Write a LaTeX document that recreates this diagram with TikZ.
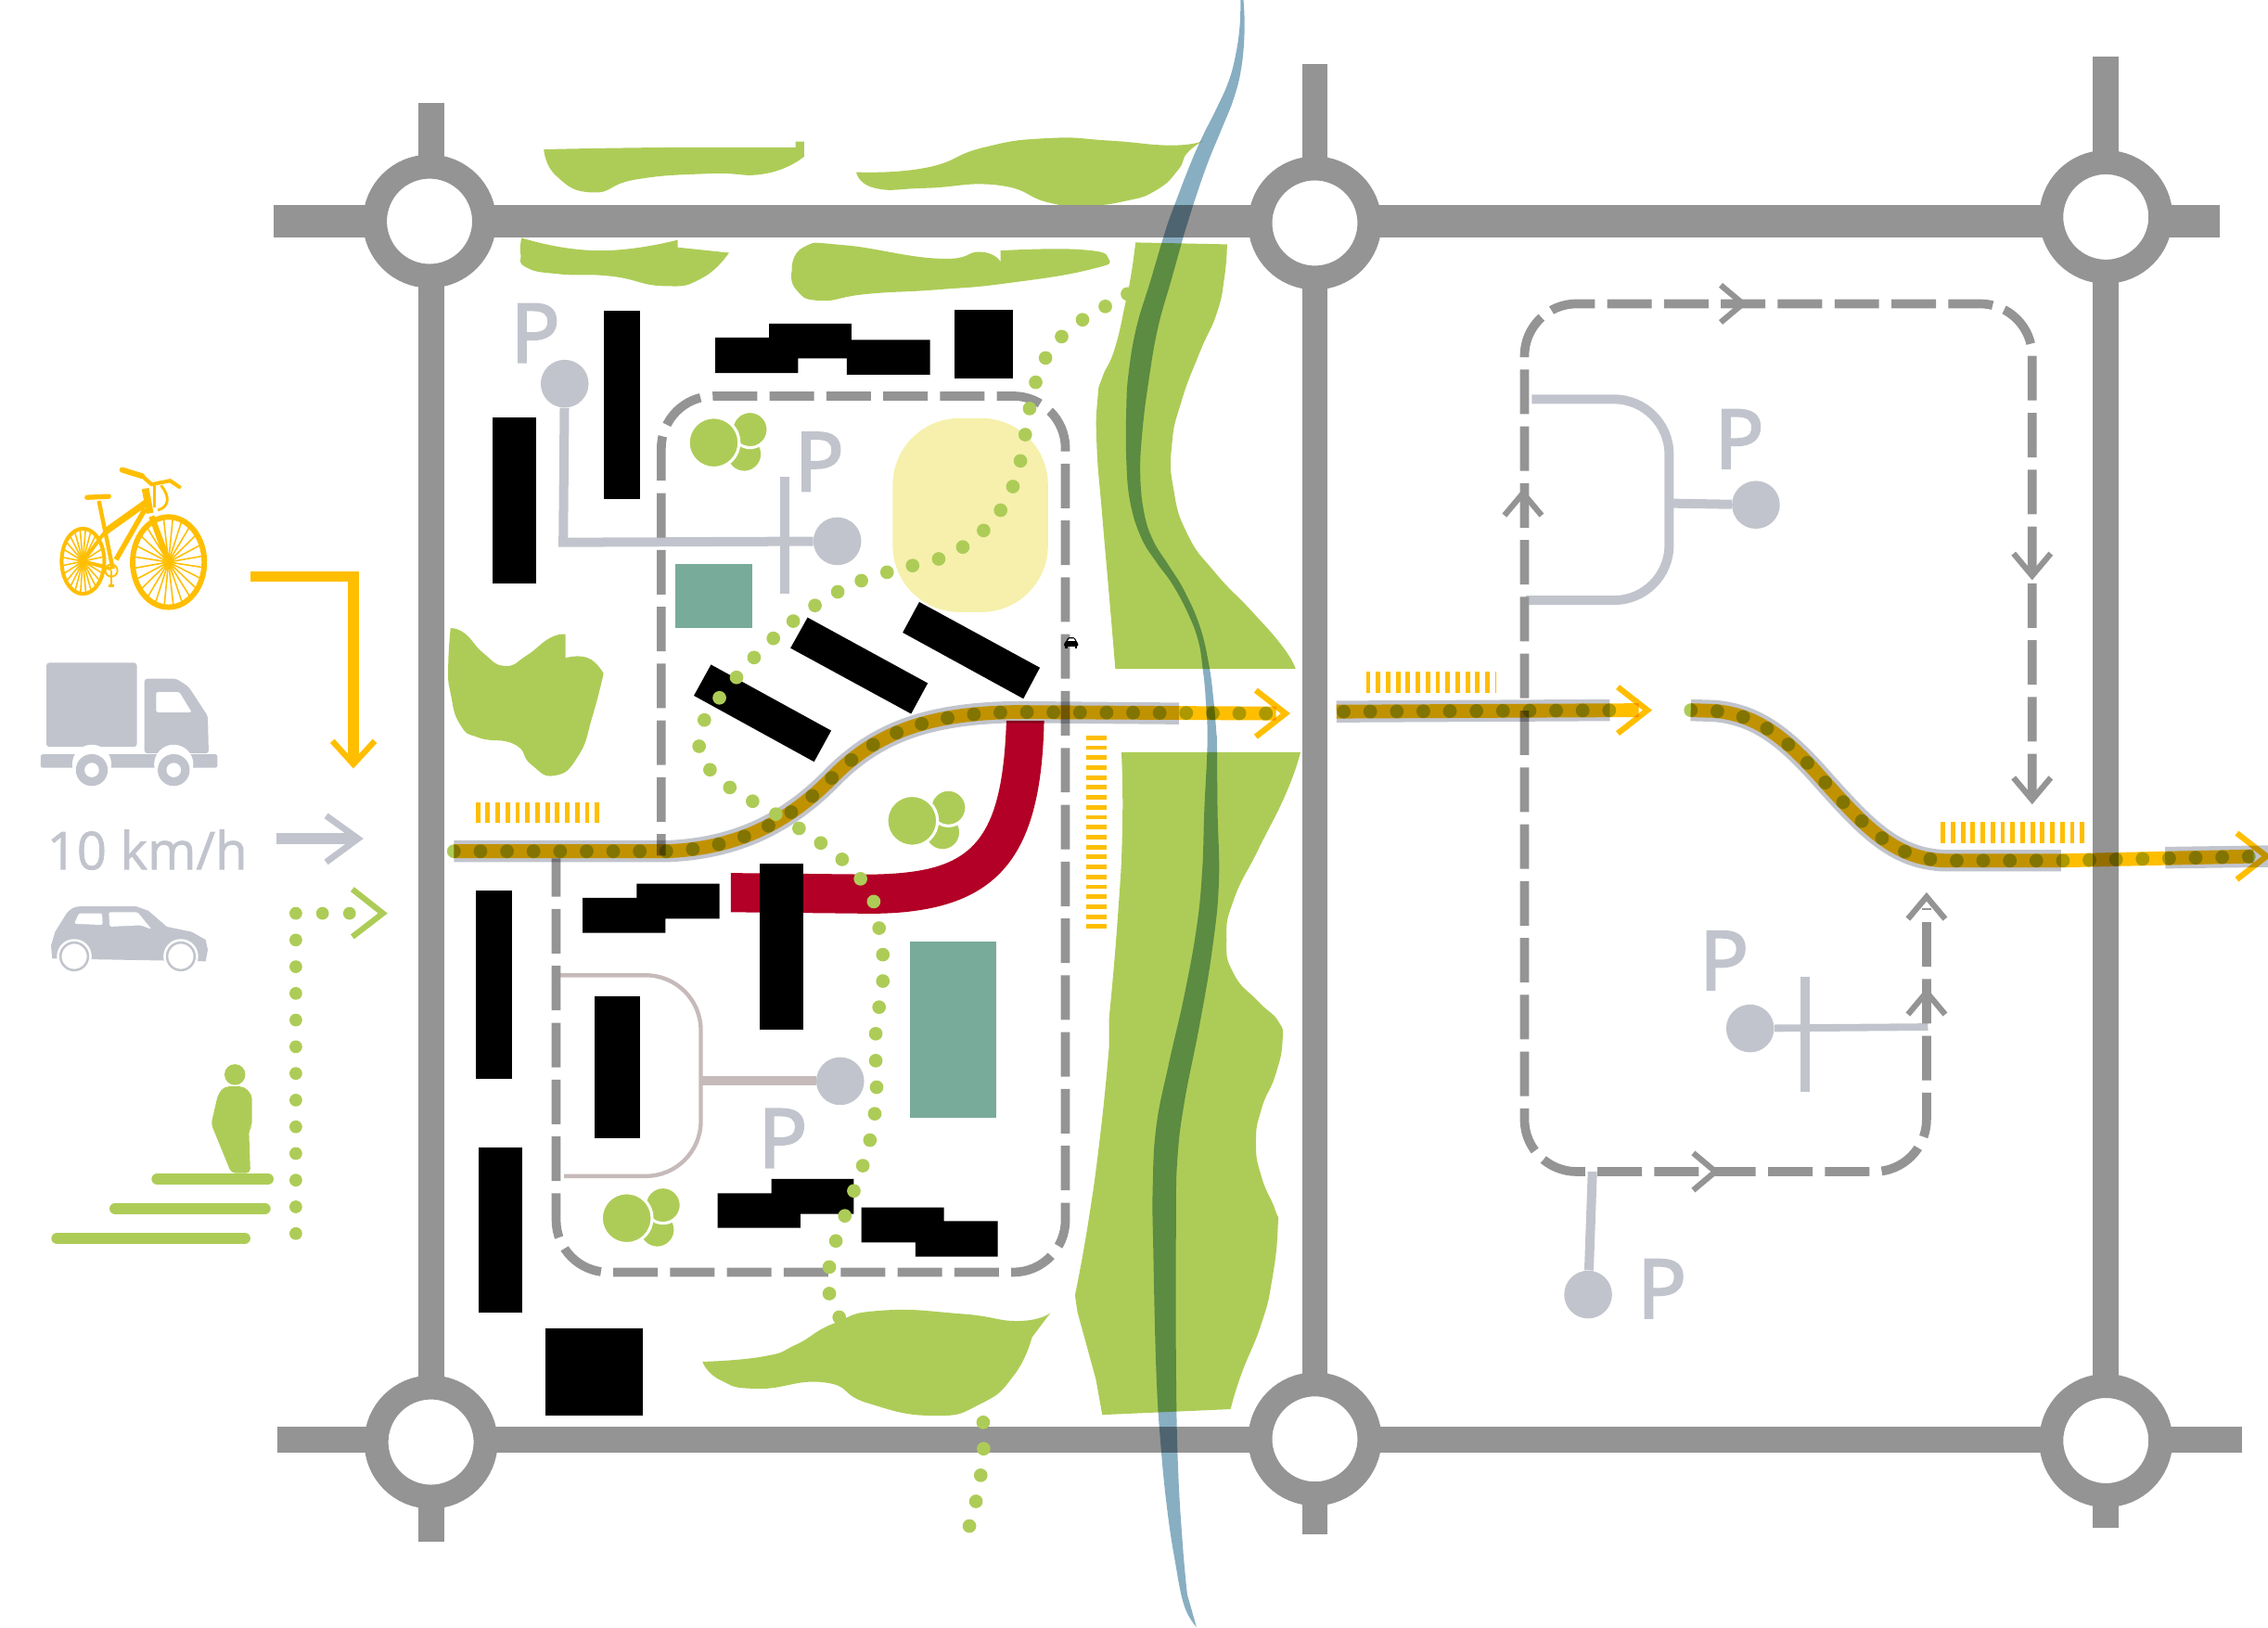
\documentclass[tikz,border=0pt]{standalone}
\usepackage{fontspec}
\setmainfont{Open Sans}
\newfontfamily\heavyfont[FakeBold=3]{Open Sans}
\newfontfamily\speedfont[FakeBold=1.2]{Open Sans}
\usetikzlibrary{arrows.meta,calc,positioning}
\definecolor{myRoad}{RGB}{148,148,148}
\definecolor{myGrey}{RGB}{193,196,204}
\definecolor{myRose}{RGB}{198,186,186}
\definecolor{myGreen}{RGB}{173,204,87}
\definecolor{myYellow}{RGB}{255,190,0}
\definecolor{myPond}{RGB}{246,240,172}
\definecolor{myTeal}{RGB}{120,171,153}
\definecolor{myRed}{RGB}{178,0,38}
\definecolor{myRiver}{RGB}{136,174,194}
\newcommand{\bendleft}{(313,587) -- (460,587) .. controls (510,585) and (545,566) .. (575,535) .. controls (605,505) and (640,492) .. (700,491)}
\newcommand{\bendright}{(1169,491) -- (1185,491.5) .. controls (1215,494) and (1235,510) .. (1262,541) .. controls (1290,572) and (1310,594) .. (1345,595)}
\tikzset{
  road/.style={draw=myRoad,line width=17.6pt},
  rbout/.style={draw=myRoad,fill=white,shape=circle,line width=16.6pt,minimum size=75.4pt,inner sep=0},
  block/.style={fill=black},
  park/.style={fill=myGreen},
  blob/.style={smooth,tension=.9},
  hub/.style={fill=myGrey,shape=circle,minimum size=33pt,inner sep=0},
  stem/.style={draw=myGrey,line width=6.4pt},
  bay/.style={draw=myGrey,line width=6.4pt,rounded corners=38pt},
  lbl/.style={text=myGrey,inner sep=0,font=\heavyfont\fontsize{56}{56}\selectfont},
  loopline/.style={draw=myRoad,line width=6.2pt,dash pattern=on 30.7pt off 8.5pt,rounded corners=36pt},
  casing/.style={draw=myGrey,line width=15pt},
  cycleway/.style={draw=myYellow,line width=9.5pt},
  footway/.style={draw=myGreen,line width=9.5pt,line cap=round,dash pattern=on 0.01pt off 18.3pt},
  hatch/.style={draw=myYellow,line width=14.5pt,dash pattern=on 3.1pt off 3.75pt},
  tip/.style={line width=4pt,miter limit=10},
  crown/.style={fill=myGreen,draw=white,line width=2pt},
  trees/.pic={
    \path [crown] (21,8) circle (12.5pt);
    \path [crown] (25,-9) circle (12.5pt);
    \path [crown] (0,0) circle (17.5pt);
  },
}
\begin{document}
\begin{tikzpicture}[x=1pt,y=-1pt]
  \useasboundingbox (0,0) rectangle (1564,1122);
  % ponds and green
  \fill [myPond,rounded corners=46pt] (615.6,288.4) rectangle (722.7,422.1);
  \path [park] plot[blob] coordinates {(375,103) (460,101.7) (548.6,101.7)} -- (548.6,97.7) -- (554.5,97.7) -- plot[blob] coordinates {(554.5,108) (528,119.7) (488.7,119.7) (438.9,123.7) (409,132.7) (384,121.7) (375,103)} -- cycle;
  \path [park] plot[blob] coordinates {(590.5,118.7) (638.3,115.7) (678.2,101.7) (722.8,95.3) (765.4,97) (808,100.2) (830,97)} -- plot[blob] coordinates {(830,97) (818.7,105.5) (812.3,117.3) (797.4,131.1) (776.1,138.6) (748.4,141.8) (722.8,139.6) (688.2,127.7) (638.3,129.7) (603.4,129.7) (590.5,118.7)} -- cycle;
  \path [park] plot[blob] coordinates {(359.7,164) (412,172.8) (467.4,165.4)} -- (467.4,170.6) -- (502.7,174.3) -- plot[blob] coordinates {(502.7,174.3) (483.7,192) (457.6,197.2) (421.7,190.5) (385.8,189) (363,184.4) (359,175) (359.7,164)} -- cycle;
  \path [park] plot[blob] coordinates {(546,187) (553.9,170.6) (581.7,169) (646.9,178.3) (676.3,173.7) (690,180.7)} -- (690,172.8) -- plot[blob] coordinates {(690,172.8) (744.9,172.1) (764.4,178.3) (751.4,185.9) (695.9,195.1) (646.9,199.7) (598,202.7) (565.3,207.3) (549,199.7) (546,187)} -- cycle;
  \path [park] plot[blob] coordinates {(310.7,433.2) (320.5,436.8) (333.6,450.6) (348.3,459.2) (363,452.1) (379.3,439.9) (390,437.5)} -- (390,453.7) -- plot[blob] coordinates {(390,453.7) (405.4,453.7) (416.2,464.4)} -- plot[blob] coordinates {(416.2,464.4) (408.7,493.4) (398.9,521) (382.6,534.8) (366.2,527.1) (354.8,513.3) (330.3,508.7) (317.3,499.6) (310.7,478.1) (309.1,459.8) (310.7,433.2)} -- cycle;
  \path [park] plot[blob] coordinates {(484.4,939) (526.2,935.4) (549,927.2) (575.1,912.5) (607.8,903.7) (663.3,906) (702.4,910.9) (724.3,905.4)} -- (711.6,922.3) -- plot[blob] coordinates {(711.6,922.3) (699.2,948.4) (676.3,968) (643.7,976.2) (598,967.4) (568.6,953.3) (522.9,957.6) (496.8,951.7) (484.4,939)} -- cycle;
  \path [park] (783,167.2) -- (846.2,168.5) -- plot[blob] coordinates {(846.2,168.5) (844.3,191.7) (839,216.2) (827.3,243.1) (814.5,277.4) (808.1,306.8) (809.1,336.2) (818.7,368) (838,394.9) (863.5,421.8) (884.8,446.3) (893.4,461.2)} -- (769.1,461.2) -- plot[blob] coordinates {(769.1,461.2) (765.4,416.9) (760.1,355.7) (756.3,306.8) (756.9,275) (760.1,260.3) (768.6,240.7) (776.1,208.9) (780.4,186.8) (783,167.2)} -- cycle;
  \path [park] (773.3,518.7) -- (896.8,518.7) -- plot[blob] coordinates {(896.8,518.7) (887,546.7) (867.8,585.6) (850.7,620.7) (845.8,647.9) (850.7,671.3) (867.8,690.7) (881.6,704.4) (884.4,718) (879.5,741.3) (869.9,764.7) (866.1,788) (869.9,811.4) (879.5,834.7) (881.2,846.4) (877.4,881.4) (869.9,912.6) (856,947.6) (848.6,971.7)} -- (760.1,975.6) -- (755.8,951.5) -- (747.3,920.4) -- (743,904.8) -- (741.3,893.1) -- plot[blob] coordinates {(741.3,893.1) (750.5,842.5) (759,780.3) (764.8,721.9)} -- plot[blob] coordinates {(764.8,702.4) (770.8,632.4) (774,570.1) (773.3,518.7)} -- cycle;
  \pic at (492.2,305.2) {trees};
  \pic at (629,566) {trees};
  \pic at (432.2,840) {trees};
  % buildings
  \fill [myRed] (504,602) -- (600,603) .. controls (668,602) and (691,585) .. (694,497) -- (720,497) .. controls (718,590) and (690,630) .. (600,630) -- (504,629) -- cycle;
  \fill [myTeal] (465.8,388.8) rectangle (519,432.9);
  \fill [myTeal] (627.7,649.1) rectangle (687.1,770.6);
  \path [block] (416.5,214.4) rectangle (441.3,344.4);
  \path [block] (339.5,287.8) rectangle (369.5,402.3);
  \path [block] (658,213.5) rectangle (698.5,260.9);
  \path [block] (493.2,232.7) -| (530.4,223.2) -| (587.2,234.3) -| (641.4,258.4) -| (584,247.1) -| (550.3,257.2) -| cycle;
  \path [block] (490.3,458.3) -- (573.2,503.8) -- (561.4,525.3) -- (478.5,479.7) -- cycle;
  \path [block] (556.9,425.8) -- (639.8,471.1) -- (628.3,492.2) -- (545.1,446.9) -- cycle;
  \path [block] (633.9,415.1) -- (717.1,460.4) -- (705.7,481.8) -- (622.5,436.2) -- cycle;
  \path [block] (328,614.2) rectangle (353.2,744.1);
  \path [block] (330,791.4) rectangle (360,905.4);
  \path [block] (376,915.8) rectangle (443.6,975.9);
  \path [block] (410.3,687) rectangle (441.3,784.6);
  \path [block] (523.9,595.6) rectangle (553.9,709.8);
  \path [block] (401.8,619.1) -| (439,609.3) -| (496.1,633.5) -| (458.9,643.3) -| cycle;
  \path [block] (494.8,822.8) -| (532,813) -| (588.8,837.1) -| (552,846.6) -| cycle;
  \path [block] (594,832.6) -| (650.9,842) -| (688.1,866.5) -| (631.3,856.7) -| cycle;
  % parking
  \node (hubA) [hub] at (389.4,264.6) {};
  \node (hubB) [hub] at (577.4,373.2) {};
  \node (hubC) [hub] at (579.4,745.5) {};
  \node (pA) [lbl] at (369.2,229.7) {P};
  \node (pB) [lbl] at (565,318.4) {P};
  \node (pC) [lbl] at (539.8,784.9) {P};
  \coordinate (bayC) at (483.5,745.5);
  \draw [stem] (hubA) -- (388.4,374) -- (hubB);
  \draw [stem] (541.2,328.8) -- (541.2,409.3);
  \draw [stem,draw=myRose] (hubC) -- (bayC);
  \draw [bay,draw=myRose,line width=2.8pt] (385.2,672.5) -- (483.3,672.5) -- (483.3,811) -- (389,811);
  \begin{scope}[scale=.9974]
    \node (hubD) [hub] at (1214,349) {};
    \node (hubE) [hub] at (1210,711) {};
    \node (hubF) [hub] at (1098,895) {};
    \node (pD) [lbl] at (1202.5,303.5) {P};
    \node (pE) [lbl] at (1192,664) {P};
    \node (pF) [lbl] at (1149,891) {P};
    \coordinate (bayD) at (1156,348);
    \coordinate (stemE) at (1333,710);
    \coordinate (stemF) at (1101,810);
    \draw [bay] (1059,276) -- (1154,276) -- (1154,415) -- (1055,415);
    \draw [stem] (hubD) -- (bayD);
    \draw [stem,line width=5pt] (hubE) -- (stemE);
    \draw [stem] (1248,675) -- (1248,755);
    \draw [stem] (hubF) -- (stemF);
  \end{scope}
  % roads
  \draw [road,line width=22.5pt] (188.5,152.4) -- (1531,152.4);
  \draw [road] (191.5,992.6) -- (1546,992.6);
  \draw [road] (297.3,70.8) -- (297.3,1063.2);
  \draw [road] (906.7,43.9) -- (906.7,1058.2);
  \draw [road] (1452.2,38.9) -- (1452.2,1053.3);
  \node (rbA) [rbout] at (296.2,152.6) {};
  \node (rbB) [rbout] at (906.7,153.8) {};
  \node (rbC) [rbout] at (1452.2,149.6) {};
  \node (rbD) [rbout] at (297.2,994.4) {};
  \node (rbE) [rbout] at (906.7,992.3) {};
  \node (rbF) [rbout] at (1452.2,993.4) {};
  % loops
  \draw [loopline,dash phase=15.9pt] (456,590) -- (456,273.1) -- (734.7,273.1) -- (734.7,877.3) -- (383.5,877.3) -- (383.5,592);
  \begin{scope}[scale=.9974]
    \draw [loopline] (1405,552) -- (1405,210) -- (1054,210) -- (1054,810) -- (1332,810) -- (1332,628);
    \foreach \x/\y/\a in {1205/210/0,1053/341/-90,1405/398/90,1405/553/90,1186/810/0,1332/620/-90,1332/686/-90}
      \draw [tip,draw=myRoad] (\x,\y) ++(\a+140:20) -- (\x,\y) -- ++(\a-140:20);
  \end{scope}
  % river and cycle tracks
  \begin{scope}[blend mode=multiply]
    \fill [myRiver] plot[smooth,tension=.7] coordinates {(855.4,0) (855,17) (852.4,36.2) (847.5,55.4) (839,74.6) (829.4,93.8) (820.9,113) (810.2,140.7) (803.4,159.9) (793.2,194.2) (783.6,226) (778.2,257.8) (776.7,282.3) (776.7,316.6) (779.3,345.9) (786.8,370.4) (797.4,387.6) (808.1,402.3) (818.7,421.8) (826.2,441.4) (829.4,461) (831.5,483) (832.6,511.7) (830.5,558.4) (829,601.2) (825.1,640.1) (816.6,686.8) (806,733.5) (797.4,776.4) (794.9,819.2) (795.3,862) (797.4,947.6) (800.6,998.2) (804.9,1041) (810.2,1076) (816.6,1107.2) (825.1,1122)} -- plot[smooth,tension=.7] coordinates {(818.7,1099.4) (815.5,1064.4) (812.3,1009.9) (811,939.8) (811,842.5) (811.9,799.7) (816.6,760.8) (827.3,706.3) (835.8,655.7) (840.5,609) (839.6,558.4) (839.2,511.7) (839,507.5) (836.9,483) (833.7,458.5) (827.3,431.6) (816.6,407.2) (806,390) (795.3,372.9) (788.9,353.3) (786.3,326.4) (787.8,297) (792.1,262.7) (798.5,226) (808.1,191.7) (817,159.9) (823,140.7) (832.6,113) (842.2,89.5) (850.7,68.2) (856,46.9) (858.2,21.3) (857.5,0)} -- cycle;
    \draw [casing] \bendleft -- (813,492);
    \draw [cycleway] \bendleft -- (880,492);
    \draw [footway] \bendleft -- (877,492);
    \draw [tip,draw=myYellow] (886.5,492) ++(142:26) -- (886.5,492) -- ++(-142:26);
    \begin{scope}[scale=.9974]
      \draw [casing] (924,492) -- (1113,491);
      \draw [casing] \bendright -- (1425,595);
      \draw [casing] (1497,593) -- (1568,592);
      \draw [cycleway] (924,492) -- (1133,491);
      \draw [cycleway] \bendright -- (1425,595) -- (1558,592);
      \draw [footway] (929,492) -- (1130,491);
      \draw [footway] \bendright -- (1425,595) -- (1564,592);
      \foreach \x/\y in {1139/491,1567/592}
        \draw [tip,draw=myYellow] (\x,\y) ++(142:26) -- (\x,\y) -- ++(-142:26);
    \end{scope}
  \end{scope}
  % crossings
  \draw [hatch] (328,560.4) -- (417,560.4);
  \draw [hatch] (942,470.5) -- (1032,470.5);
  \draw [hatch] (1338.4,574.3) -- (1441,574.3);
  \draw [hatch] (756,507.2) -- (756,640);
  % foot path
  \foreach \x/\y in {777.5/202.7,762.2/211.3,746.5/220.5,732.1/232.1,721/246.8,714.2/263.6,710/281.7,707/299.7,703.7/317.8,698.5/335.5,690/351.8,678.3/365.8,663.9/377.2,647.3/385.4,629.3/390,611.7/394.6,594/400.4,577.7/408.1,562/417.5,547/428.3,533.3/440.2,520/453.4,507.9/467.1,496.1/481.2,485.7/496.5,482.1/514.6,489.6/530.8,503.3/543,519/552.5,535/561.4,551/571.2,566/581.3,580.7/592.6,593.4/606,602.5/621.7,606.2/640,608.8/658.3,608.8/676.5,606.2/694.5,603.9/712.8,603.9/731.4,604.5/749.7,603.2/768,599.9/786.2,595/803.8,588.8/821.2,582.6/838.4,576.4/855.7,571.9/873.7,571.9/892,578.7/908.3,678/980.8,678.3/999,676.3/1017.3,673/1035.3,668.5/1052.3}
    \fill [myGreen] (\x,\y) circle (4.7pt);
  % small car
  \fill [black,rounded corners=.8pt] (733.7,445.7) -- (733.7,443.5) -- (735,442.5) -- (736.5,439.5) -- (741,439.5) -- (742.5,442.5) -- (743.5,443.5) -- (743.5,445.7) -- cycle;
  \fill [white] (736.3,442) -- (737.3,440.4) -- (740.5,440.4) -- (741.5,442) -- cycle;
  \fill [black] (734.5,445.7) rectangle (736,447);
  \fill [black] (741.2,445.7) rectangle (742.8,447);
  % legend
  \draw [draw=myYellow,line width=7.2pt] (172.7,397.5) -- (243.7,397.5) -- (243.7,525);
  \draw [tip,draw=myYellow,line width=4pt] (229.2,511) -- (243.7,527) -- (258.4,511);
  \draw [draw=myGrey,line width=7.2pt] (190.8,578.3) -- (244,578.3);
  \draw [tip,draw=myGrey,line width=4.4pt] (224.9,562.5) -- (246.9,578.3) -- (224.9,594.5);
  \node (speed) [text=myGrey,inner sep=0,font=\speedfont\fontsize{36}{36}\selectfont] at (101.5,586) {10 km/h};
  \foreach \y in {629.8,648.2,...,855}
    \fill [myGreen] (204,\y) circle (4.4pt);
  \foreach \x in {222.4,241}
    \fill [myGreen] (\x,629.8) circle (4.4pt);
  \draw [tip,draw=myGreen] (243,613.2) -- (264,629.8) -- (243,646);
  \foreach \a/\b/\y in {104.5/188.7/813,75.5/186.6/833.4,35.4/172.7/854}
    \draw [draw=myGreen,line width=8pt,line cap=round] (\a+4,\y) -- (\b-4,\y);
  \fill [myGreen] (162,741) circle (7.2pt);
  \fill [myGreen,rounded corners=3pt] (150.3,754.8) -- (154.6,749.2) -- (168.4,749.2) -- (173.8,755) -- (173.8,776.8) -- (171.6,778.6) -- (172.7,809) -- (159.5,809) -- (145.6,775) -- cycle;
  % truck
  \fill [myGrey,rounded corners=2pt] (32,457) rectangle (94.4,515);
  \fill [myGrey,rounded corners=2pt] (99.6,519.5) -- (99.6,468) -- (121.5,468) -- (130,473.5) -- (143.3,493.8) -- (143.9,519.5) -- cycle;
  \fill [white,rounded corners=1pt] (107.7,477.2) -- (123.7,477.2) -- (132.2,491.2) -- (107.7,491.2) -- cycle;
  \fill [myGrey,rounded corners=1.5pt] (28,520.2) rectangle (150,529.4);
  \foreach \x in {63.3,119.8} {
    \fill [white] (\x,527) circle (13.5pt);
    \fill [myGrey] (\x,531) circle (11pt);
    \fill [white] (\x,531) circle (5pt);
  }
  % car
  \fill [myGrey] (36,661) -- (35.2,652) -- (38,642.6) -- (45.8,630) .. controls (49,626) and (52,625) .. (56,625) -- (93.8,625) -- (102.3,628) -- (115,639) -- (132.2,642.6) -- (141.8,648) -- (143.3,655) -- (141.8,662.9) -- cycle;
  \fill [white,rounded corners=1pt] (51.2,637) -- (54.4,629.8) -- (70.4,629.8) -- (70.8,637.8) -- cycle;
  \fill [white,rounded corners=1pt] (75,629) -- (94.9,629) -- (104.5,640.8) -- (97,638) -- (75.7,639) -- cycle;
  \foreach \x in {51.2,124.7} {
    \fill [white] (\x,659.5) circle (12pt);
    \path [draw=myGrey,line width=1.6pt] (\x,659.5) circle (9.5pt);
  }
  % bike
  \begin{scope}[draw=myYellow,fill=myYellow]
    \foreach \x/\y/\r/\s/\w in {57.2/387/14.7/22.5/2.6,116.2/387.6/24.7/31.1/3.8} {
      \draw [line width=\w pt] (\x,\y) ellipse ({\r pt} and {\s pt});
      \foreach \a in {7,22,...,352}
        \draw [line width=1pt] (\x,\y) -- +(\a:{\r} and {\s});
      \fill (\x,\y) ellipse (2.6pt and 3.4pt);
    }
    \draw [line width=2.8pt] (68.2,345.4) -- (77.8,392.3);
    \draw [line width=4.6pt] (72.5,366.7) -- (102.4,345.4);
    \draw [line width=3.5pt] (80,385.9) -- (100.2,350.7);
    \draw [line width=5pt] (100.2,336.9) -- (103.4,353.9);
    \draw [line width=4pt] (104.5,356) -- (116.2,387.6);
    \draw [line width=2.4pt] (57.2,387) -- (76.8,392.3);
    \draw [line width=2.4pt] (57.2,387) -- (72.5,366.7);
    \draw [line width=1.2pt] (76.8,393.4) circle (4.2pt);
    \draw [line width=1.6pt] (76.8,393.4) -- (76.8,404);
    \draw [line width=2.4pt] (74.8,404) -- (78.8,404);
    \draw [line width=3.4pt,line cap=round] (60,343) -- (75,342.3);
    \draw [line width=3.8pt,line cap=round] (84.2,324) -- (98.1,328.3);
    \draw [line width=2.6pt,line cap=round] (98.1,328.3) -- (104.5,334) -- (117.3,331.5) -- (123.7,335.8);
    \draw [line width=1.6pt] (106.6,334.7) -- (106.6,349.6);
    \draw [line width=1.8pt] (111,334.7) .. controls (118,343) and (116,350) .. (108.8,351.8);
  \end{scope}
\end{tikzpicture}
\end{document}
